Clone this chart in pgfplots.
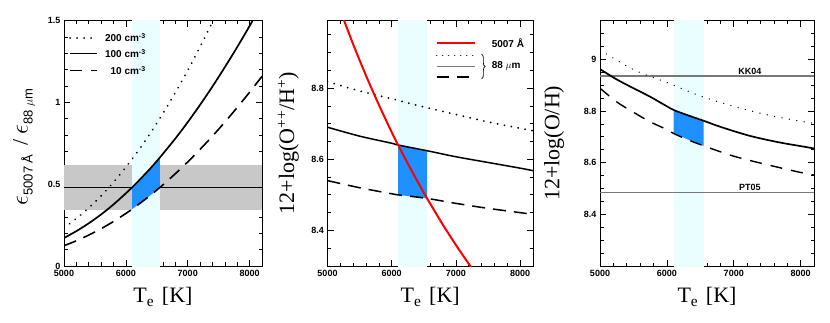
\documentclass[border=0pt]{standalone}
\usepackage{fontspec}
\setmainfont{Liberation Serif}
\setsansfont{Liberation Sans}
\usepackage{pgfplots}
\pgfplotsset{compat=1.18}
\usetikzlibrary{decorations.pathreplacing}

\definecolor{bandcyan}{RGB}{234,254,255}
\definecolor{bandgray}{RGB}{200,200,200}
\definecolor{fillblue}{RGB}{30,144,255}
\definecolor{refgray}{RGB}{120,120,120}

\tikzset{leg/.style={font=\sffamily\bfseries\fontsize{10}{11}\selectfont, inner sep=1pt}}
\newcommand{\sub}[1]{\raisebox{-5pt}{\sffamily\fontsize{13}{14}\selectfont #1}}

\pgfplotsset{
  panel/.style={
    scale only axis, height=245.5pt,
    xmin=5000, xmax=8200,
    xtick={5000,6000,7000,8000},
    minor xtick={5200,5400,5600,5800,6200,6400,6600,6800,7200,7400,7600,7800},
    tick align=inside,
    major tick length=6pt, minor tick length=3.5pt,
    every tick/.append style={line width=0.7pt, black},
    axis line style={line width=0.9pt},
    ticklabel style={font=\sffamily\bfseries\fontsize{9}{10}\selectfont},
    xticklabel style={yshift=-1pt},
    /pgf/number format/assume math mode=true,
    /pgf/number format/1000 sep={},
    xlabel={T\textsubscript{e}\hspace{0.35em}[K]},
    label style={font=\fontsize{22}{26}\selectfont},
    xlabel style={at={(axis description cs:0.5,-0.126)}, anchor=center},
  },
  dotline/.style={black, line width=2pt, line cap=round, dash pattern=on 0.01pt off 7pt},
  dashline/.style={black, line width=1.6pt, dash pattern=on 13pt off 8pt},
  solidline/.style={black, line width=1.7pt},
}

\begin{document}
\begin{tikzpicture}
\path[use as bounding box] (0,0) rectangle (830pt,322pt);

% ---------- panel 1: emissivity ratio
\begin{axis}[panel, at={(64pt,56pt)}, anchor=south west, width=198pt,
  ymin=0, ymax=1.5, ytick={0,0.5,1,1.5},
  minor ytick={0.1,0.2,0.3,0.4,0.6,0.7,0.8,0.9,1.1,1.2,1.3,1.4},
  ylabel={{\fontsize{26}{28}\selectfont$\epsilon$}\sub{5007 Å}\hspace{9pt}/\hspace{5pt}{\fontsize{26}{28}\selectfont$\epsilon$}\sub{88 $\mu$m}},
  ylabel style={at={(axis description cs:-0.202,0.485)}, anchor=center}]
\addplot[fill=bandgray, draw=none] coordinates {(5000,0.345) (8200,0.345) (8200,0.62) (5000,0.62)};
\addplot[black, line width=0.6pt] coordinates {(5000,0.48) (8200,0.48)};
\addplot[fill=bandcyan, draw=none] coordinates {(6100,-1) (6550,-1) (6550,2) (6100,2)};
\addplot[fill=fillblue, draw=none] coordinates {
  (6100,0.480) (6200,0.518) (6400,0.598) (6550,0.663)
  (6550,0.480) (6400,0.433) (6200,0.375) (6100,0.347)};
% 200 cm-3
\addplot[dotline, smooth] coordinates {
  (5000,0.233) (5200,0.290) (5400,0.355) (5600,0.429) (5800,0.512) (6000,0.604)
  (6200,0.704) (6400,0.814) (6600,0.932) (6800,1.060) (7000,1.195) (7200,1.340)
  (7400,1.492) (7600,1.652)};
% 100 cm-3
\addplot[solidline, smooth] coordinates {
  (5000,0.171) (5200,0.213) (5400,0.261) (5600,0.315) (5800,0.376) (6000,0.444)
  (6100,0.480) (6200,0.518) (6400,0.598) (6550,0.663) (6600,0.686) (6800,0.779)
  (7000,0.879) (7200,0.985) (7400,1.097) (7600,1.215) (7800,1.338) (8000,1.467)
  (8200,1.602)};
% 10 cm-3
\addplot[dashline, smooth] coordinates {
  (5000,0.124) (5200,0.154) (5400,0.189) (5600,0.228) (5800,0.272) (6000,0.321)
  (6100,0.347) (6200,0.375) (6400,0.433) (6550,0.480) (6600,0.496) (6800,0.564)
  (7000,0.636) (7200,0.713) (7400,0.794) (7600,0.879) (7800,0.969) (8000,1.062)
  (8200,1.159)};
% legend
\addplot[dotline] coordinates {(5100,1.396) (5530,1.396)};
\addplot[solidline] coordinates {(5100,1.298) (5530,1.298)};
\addplot[dashline, dash pattern=on 12pt off 9pt] coordinates {(5100,1.194) (5530,1.194)};
\node[leg, anchor=east] at (axis cs:6340,1.396) {200 cm\textsuperscript{-3}};
\node[leg, anchor=east] at (axis cs:6340,1.298) {100 cm\textsuperscript{-3}};
\node[leg, anchor=east] at (axis cs:6340,1.194) {10 cm\textsuperscript{-3}};
\end{axis}

% ---------- panel 2: O++/H+
\begin{axis}[panel, at={(327.5pt,56pt)}, anchor=south west, width=205.5pt,
  ymin=8.3, ymax=8.99, ytick={8.4,8.6,8.8},
  minor ytick={8.35,8.45,8.5,8.55,8.65,8.7,8.75,8.85,8.9,8.95},
  ylabel={12+log(O\textsuperscript{++}/H\textsuperscript{+})},
  ylabel style={at={(axis description cs:-0.19,0.5)}, anchor=center}]
\addplot[fill=bandcyan, draw=none] coordinates {(6100,8) (6550,8) (6550,9.5) (6100,9.5)};
\addplot[fill=fillblue, draw=none] coordinates {
  (6100,8.640) (6550,8.624) (6550,8.490) (6100,8.500)};
\addplot[dotline, smooth] coordinates {
  (5000,8.818) (5500,8.792) (6000,8.770) (6500,8.747) (7000,8.726) (7500,8.705)
  (8000,8.687) (8200,8.680)};
\addplot[solidline, line width=1.5pt, smooth] coordinates {
  (5000,8.690) (5500,8.665) (6000,8.645) (6100,8.640) (6550,8.624) (7000,8.607)
  (7500,8.591) (8000,8.575) (8200,8.568)};
\addplot[dashline, line width=1.5pt, smooth] coordinates {
  (5000,8.540) (5500,8.520) (6000,8.503) (6100,8.500) (6550,8.490) (7000,8.476)
  (7500,8.462) (8000,8.450) (8200,8.445)};
\addplot[red, line width=2pt, smooth] coordinates {
  (5200,9.018) (5400,8.923) (5600,8.835) (5800,8.753) (6000,8.676) (6100,8.640)
  (6200,8.605) (6400,8.538) (6550,8.490) (6600,8.475) (6800,8.415) (7000,8.359)
  (7200,8.306) (7400,8.256)};
% legend
\addplot[red, line width=2pt] coordinates {(6700,8.926) (7300,8.926)};
\addplot[dotline, line width=1.4pt, dash pattern=on 0.01pt off 6pt] coordinates {(6700,8.891) (7300,8.891)};
\addplot[refgray, line width=1.3pt] coordinates {(6700,8.861) (7300,8.861)};
\addplot[dashline, line width=1.2pt, dash pattern=on 12pt off 8pt] coordinates {(6700,8.831) (7300,8.831)};
\draw[black, line width=0.7pt, decorate, decoration={brace, amplitude=3.5pt}]
  (axis cs:7400,8.895) -- (axis cs:7400,8.826);
\node[leg, anchor=west] at (axis cs:7540,8.926) {5007 Å};
\node[leg, anchor=west] at (axis cs:7540,8.861) {88 $\mu$m};
\end{axis}

% ---------- panel 3: O/H
\begin{axis}[panel, at={(600pt,56pt)}, anchor=south west, width=214pt,
  ymin=8.2, ymax=9.15, ytick={8.4,8.6,8.8,9},
  minor ytick={8.25,8.3,8.35,8.45,8.5,8.55,8.65,8.7,8.75,8.85,8.9,8.95,9.05,9.1},
  ylabel={12+log(O/H)},
  ylabel style={at={(axis description cs:-0.215,0.5)}, anchor=center}]
\addplot[fill=bandcyan, draw=none] coordinates {(6100,8) (6550,8) (6550,9.5) (6100,9.5)};
\addplot[fill=fillblue, draw=none] coordinates {
  (6100,8.804) (6250,8.789) (6400,8.775) (6550,8.762)
  (6550,8.665) (6400,8.680) (6250,8.697) (6100,8.713)};
\addplot[refgray, line width=1.2pt] coordinates {(5000,8.935) (8200,8.935)};
\addplot[refgray, line width=1.2pt] coordinates {(5000,8.484) (8200,8.484)};
\addplot[dotline, line width=1.4pt, dash pattern=on 0.01pt off 7.5pt, smooth] coordinates {
  (5000,9.036) (5500,8.960) (6000,8.910) (6500,8.858) (7000,8.818) (7500,8.785)
  (8000,8.760) (8200,8.752)};
\addplot[solidline, smooth] coordinates {
  (5000,8.962) (5250,8.922) (5500,8.888) (5750,8.855) (6000,8.818) (6100,8.804)
  (6250,8.789) (6550,8.762) (6750,8.743) (7000,8.722) (7250,8.703) (7500,8.688)
  (7750,8.675) (8000,8.664) (8200,8.655)};
\addplot[dashline, line width=1.4pt, dash pattern=on 12pt off 9pt, smooth] coordinates {
  (5000,8.888) (5250,8.835) (5500,8.795) (5750,8.758) (6000,8.728) (6100,8.713)
  (6300,8.690) (6550,8.665) (7000,8.625) (7500,8.592) (8000,8.562) (8200,8.552)};
\node[leg, font=\sffamily\bfseries\fontsize{9}{10}\selectfont, anchor=south] at (axis cs:7240,8.937) {KK04};
\node[leg, font=\sffamily\bfseries\fontsize{9}{10}\selectfont, anchor=south] at (axis cs:7240,8.486) {PT05};
\end{axis}
\end{tikzpicture}
\end{document}
